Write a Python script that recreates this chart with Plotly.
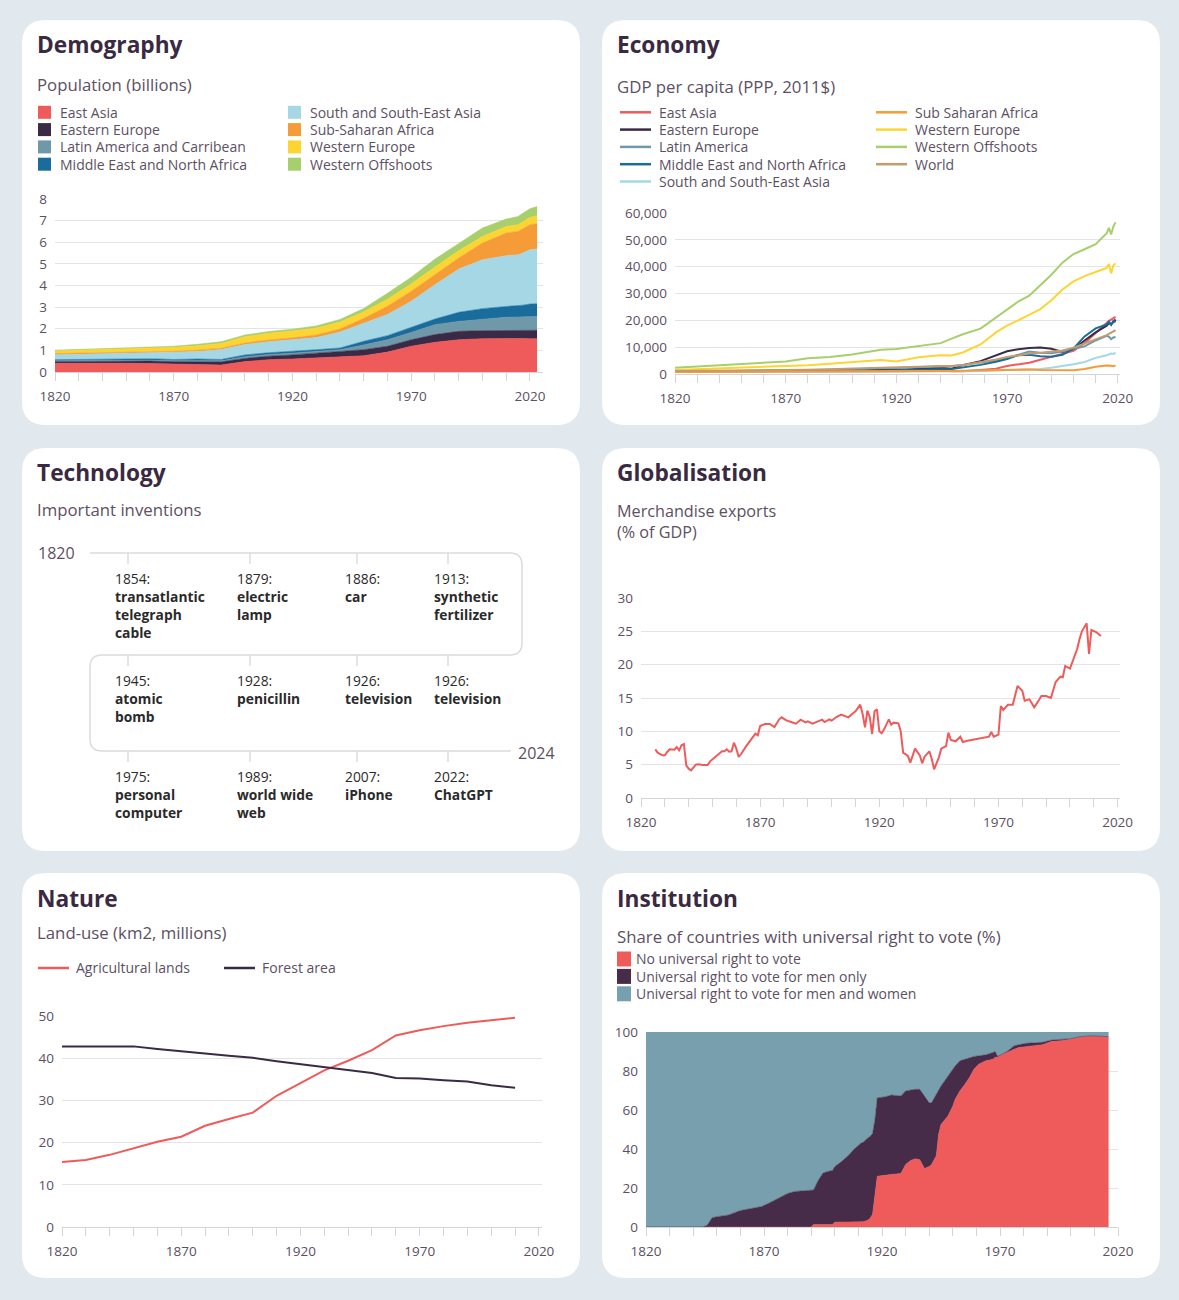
import plotly.graph_objects as go

W, H = 1179, 1300
def px(x): return x / W
def py(y): return 1 - y / H

BG = "#e2e9ee"
FONT = "Open Sans"
TITLE_C = "#3a2a41"
TEXT_C = "#5c5062"
GRID_C = "#e4e4e8"
AXIS_C = "#d4d4d8"

# ---------------- Demography (population, billions) ----------------
pop_years = [1820, 1830, 1840, 1850, 1860, 1870, 1880, 1890, 1900, 1910, 1920, 1930,
             1940, 1950, 1960, 1970, 1980, 1990, 2000, 2010, 2015, 2017, 2020, 2023]
pop_east_asia = [0.40, 0.41, 0.41, 0.40, 0.39, 0.37, 0.35, 0.32, 0.48, 0.57, 0.60, 0.65,
                 0.69, 0.75, 0.92, 1.19, 1.37, 1.49, 1.54, 1.56, 1.56, 1.55, 1.54, 1.54]
pop_eastern_europe = [0.09, 0.09, 0.10, 0.11, 0.12, 0.11, 0.13, 0.15, 0.15, 0.16, 0.19, 0.22,
                      0.25, 0.28, 0.27, 0.30, 0.36, 0.39, 0.37, 0.37, 0.37, 0.38, 0.39, 0.39]
pop_latin_america = [0.03, 0.03, 0.03, 0.04, 0.04, 0.04, 0.05, 0.05, 0.07, 0.08, 0.08, 0.08,
                     0.09, 0.22, 0.30, 0.34, 0.46, 0.46, 0.54, 0.60, 0.61, 0.61, 0.62, 0.64]
pop_mena = [0.05, 0.05, 0.05, 0.05, 0.06, 0.06, 0.07, 0.06, 0.09, 0.08, 0.08, 0.08,
            0.08, 0.17, 0.19, 0.23, 0.26, 0.42, 0.48, 0.50, 0.52, 0.55, 0.59, 0.59]
pop_south_asia = [0.23, 0.24, 0.25, 0.26, 0.27, 0.32, 0.35, 0.46, 0.48, 0.51, 0.53, 0.56,
                  0.74, 0.82, 0.98, 1.21, 1.59, 2.00, 2.26, 2.35, 2.36, 2.41, 2.51, 2.53]
pop_ssa = [0.05, 0.05, 0.05, 0.05, 0.05, 0.06, 0.06, 0.06, 0.07, 0.08, 0.10, 0.12,
           0.14, 0.24, 0.38, 0.46, 0.46, 0.51, 0.77, 1.05, 1.08, 1.13, 1.16, 1.18]
pop_western_europe = [0.13, 0.14, 0.15, 0.16, 0.17, 0.18, 0.20, 0.22, 0.29, 0.31, 0.32, 0.32,
                      0.32, 0.30, 0.32, 0.34, 0.35, 0.34, 0.31, 0.30, 0.31, 0.31, 0.34, 0.36]
pop_western_offshoots = [0.03, 0.03, 0.03, 0.04, 0.04, 0.05, 0.07, 0.08, 0.08, 0.08, 0.08, 0.10,
                         0.12, 0.16, 0.28, 0.31, 0.37, 0.35, 0.39, 0.34, 0.38, 0.40, 0.40, 0.42]
pop_names = ["East Asia", "Eastern Europe", "Latin America and Carribean",
             "Middle East and North Africa", "South and South-East Asia",
             "Sub-Saharan Africa", "Western Europe", "Western Offshoots"]
pop_colors = ["#ef5a5a", "#3b2a45", "#6f98a9", "#1a6c9c",
              "#a5d7e5", "#f59b37", "#fdd533", "#a7cf6b"]

# ---------------- Economy (GDP per capita) ----------------
econ_years = [1820, 1850, 1870, 1880, 1890, 1900, 1910, 1913, 1920, 1930, 1940, 1945, 1950,
              1958, 1965, 1970, 1975, 1980, 1985, 1990, 1995, 2000, 2005, 2010, 2015,
              2016, 2017, 2018, 2019]
gdp_east_asia = [900, 850, 800, 800, 850, 900, 1000, 1000, 1050, 1150, 1300, 1000, 1000,
                 1500, 2000, 3000, 3500, 4200, 5300, 6400, 7500, 8600, 11500, 15400, 19000,
                 19800, 20300, 20800, 21300]
gdp_eastern_europe = [900, 1000, 1200, 1300, 1400, 1600, 1900, 2000, 1500, 1900, 2300, 2000, 3300,
                      4800, 7000, 8500, 9200, 9700, 9900, 9400, 8200, 9300, 12500, 15500, 18000,
                      19000, 18500, 19500, 20300]
gdp_latin_america = [900, 1000, 1100, 1200, 1400, 1600, 2000, 2200, 2200, 2500, 2700, 3000, 3400,
                     4200, 5000, 5900, 7200, 8400, 7900, 7700, 8400, 9400, 10300, 12500, 14200,
                     13900, 13000, 13600, 13800]
gdp_mena = [900, 950, 1000, 1050, 1100, 1200, 1300, 1350, 1400, 1600, 1800, 1900, 2500,
            3400, 4600, 5600, 7000, 7200, 6600, 6400, 7200, 9500, 14000, 17000, 18500,
            19500, 18300, 19800, 19300]
gdp_south_asia = [800, 800, 800, 850, 850, 900, 950, 1000, 950, 1000, 1000, 1000, 1000,
                  1100, 1250, 1350, 1450, 1600, 1850, 2300, 2900, 3600, 4500, 6000, 7000,
                  7400, 7600, 7500, 8000]
gdp_ssa = [700, 750, 800, 850, 900, 950, 1000, 1000, 1000, 1100, 1150, 1150, 1200,
           1350, 1500, 1600, 1700, 1700, 1500, 1450, 1350, 1400, 1900, 2700, 3200,
           3200, 3100, 2900, 3200]
gdp_western_europe = [1500, 2300, 3000, 3300, 3800, 4400, 5000, 5200, 4700, 6200, 7000, 6900, 8000,
                      11000, 15500, 18000, 20000, 22000, 24200, 27500, 31500, 34500, 36500, 38000, 39500,
                      41000, 37500, 40500, 41200]
gdp_western_offshoots = [2300, 3700, 4700, 5900, 6300, 7300, 8800, 9000, 9300, 10300, 11500, 13200, 14800,
                         16900, 21000, 24200, 27000, 29200, 33000, 37000, 41500, 44700, 46500, 48400, 52500,
                         54500, 52000, 55000, 56500]
gdp_world = [1100, 1200, 1500, 1600, 1800, 2000, 2300, 2400, 2300, 2700, 3000, 2900, 3300,
             4300, 5400, 6300, 7000, 7600, 7900, 8300, 8800, 9800, 11300, 12800, 14500,
             15000, 15400, 15900, 16300]
gdp_names = ["East Asia", "Eastern Europe", "Latin America", "Middle East and North Africa",
             "South and South-East Asia", "Sub Saharan Africa", "Western Europe",
             "Western Offshoots", "World"]
gdp_colors = ["#ef5a5a", "#3b2a45", "#6f98a9", "#1a6c9c", "#a5d7e5",
              "#f59b37", "#fdd533", "#a7cf6b", "#c29b6e"]

# ---------------- Technology ----------------
invention_years = [1854, 1879, 1886, 1913, 1945, 1928, 1926, 1926, 1975, 1989, 2007, 2022]
invention_names = ["transatlantic\ntelegraph\ncable", "electric\nlamp", "car", "synthetic\nfertilizer",
                   "atomic\nbomb", "penicillin", "television", "television",
                   "personal\ncomputer", "world wide\nweb", "iPhone", "ChatGPT"]
timeline_start, timeline_end = "1820", "2024"

# ---------------- Globalisation ----------------
exports_years = [1826, 1827, 1829, 1830, 1831, 1832, 1834, 1835, 1836, 1837,
                 1838, 1839, 1840, 1841, 1843, 1844, 1846, 1848, 1849, 1850,
                 1852, 1854, 1855, 1856, 1857, 1858, 1859, 1860, 1861, 1862,
                 1864, 1866, 1867, 1868, 1869, 1870, 1872, 1874, 1876, 1878,
                 1879, 1881, 1883, 1885, 1887, 1889, 1890, 1892, 1894, 1896,
                 1897, 1899, 1900, 1902, 1904, 1906, 1907, 1909, 1910, 1912,
                 1913, 1914, 1915, 1916, 1917, 1918, 1919, 1920, 1921, 1922,
                 1924, 1925, 1926, 1928, 1929, 1930, 1932, 1933, 1935, 1937,
                 1938, 1939, 1941, 1942, 1943, 1945, 1946, 1948, 1949, 1950,
                 1952, 1954, 1955, 1957, 1960, 1962, 1964, 1966, 1967, 1968,
                 1970, 1971, 1972, 1974, 1976, 1978, 1980, 1981, 1983, 1985,
                 1987, 1988, 1990, 1992, 1994, 1996, 1997, 1998, 2000, 2001,
                 2003, 2004, 2005, 2007, 2008, 2009, 2011, 2013]
exports_share = [7.3, 6.8, 6.4, 6.4, 6.9, 7.3, 7.25, 7.65, 7.15, 7.9,
                 8.1, 4.9, 4.4, 4.15, 5.0, 5.05, 4.95, 4.95, 5.5, 5.8,
                 6.4, 7.0, 7.0, 7.3, 6.95, 7.0, 8.3, 7.4, 6.15, 6.6,
                 7.7, 8.6, 9.2, 9.65, 9.4, 10.8, 11.1, 11.1, 10.65, 11.8,
                 12.1, 11.65, 11.4, 11.15, 11.75, 11.35, 11.5, 11.15, 11.45, 11.75,
                 11.4, 11.8, 11.6, 12.15, 12.5, 12.3, 12.1, 12.7, 13.0, 14.0,
                 12.6, 10.6, 13.1, 12.1, 9.6, 13.0, 13.3, 10.0, 9.7, 10.3,
                 11.8, 11.0, 11.3, 11.2, 10.0, 6.8, 6.3, 5.3, 7.4, 6.4,
                 5.2, 6.2, 7.0, 5.9, 4.3, 6.1, 7.4, 7.8, 9.8, 8.7,
                 8.5, 9.2, 8.4, 8.6, 8.8, 8.9, 9.1, 9.2, 9.9, 9.2,
                 9.5, 13.8, 13.2, 14.0, 14.0, 16.8, 16.1, 14.6, 14.8, 13.6,
                 14.7, 15.3, 15.3, 15.0, 17.4, 18.2, 18.1, 19.8, 19.4, 20.4,
                 22.3, 23.8, 25.0, 26.2, 21.6, 25.2, 24.9, 24.3]

# ---------------- Nature (land use) ----------------
land_years = [1820, 1830, 1840, 1850, 1860, 1870, 1880, 1890, 1900, 1910,
              1920, 1930, 1940, 1950, 1960, 1970, 1980, 1990, 2000, 2010]
agricultural_lands = [15.4, 15.9, 17.1, 18.6, 20.2, 21.4, 24.0, 25.6, 27.1, 31.1,
                      34.2, 37.1, 39.4, 41.9, 45.4, 46.6, 47.6, 48.4, 49.0, 49.6]
forest_area = [42.8, 42.8, 42.8, 42.8, 42.2, 41.6, 41.1, 40.6, 40.1, 39.3,
               38.6, 37.9, 37.2, 36.5, 35.3, 35.2, 34.8, 34.5, 33.6, 33.0]

# ---------------- Institution (right to vote) ----------------
vote_years = [1820, 1844, 1846, 1848, 1850, 1852, 1855, 1860, 1863, 1866,
              1869, 1872, 1875, 1878, 1880, 1883, 1887, 1890, 1891, 1893,
              1895, 1897, 1899, 1900, 1903, 1906, 1908, 1911, 1912, 1914,
              1915, 1916, 1917, 1918, 1921, 1924, 1928, 1930, 1932, 1934,
              1936, 1938, 1940, 1941, 1943, 1944, 1945, 1948, 1950, 1951,
              1953, 1955, 1957, 1959, 1961, 1964, 1967, 1968, 1969, 1971,
              1973, 1976, 1978, 1981, 1985, 1988, 1992, 1996, 2000, 2004,
              2009, 2016]
vote_no_universal = [0, 0, 0, 0, 0, 0, 0, 0, 0, 0,
                     0, 0, 0, 0, 0, 0, 0, 0, 1.3, 1.3,
                     1.3, 1.3, 1.3, 2.5, 2.5, 2.5, 2.6, 2.7, 2.7, 3.5,
                     4.5, 6.5, 15.0, 26.0, 26.5, 27.0, 27.5, 32.0, 34.0, 35.0,
                     34.5, 30.0, 31.0, 32.0, 36.6, 47.6, 52.6, 57.0, 62.0, 65.5,
                     69.8, 73.0, 76.6, 81.0, 83.5, 85.2, 86.0, 87.0, 87.0, 88.7,
                     89.5, 91.2, 92.0, 92.5, 93.0, 93.5, 95.2, 95.5, 96.4, 97.6,
                     98.0, 97.6]
vote_upper_men_only = [0, 0, 1.0, 4.8, 5.3, 5.8, 6.2, 8.5, 9.2, 10.0,
                       10.5, 12.2, 14.0, 15.8, 17.2, 18.2, 18.7, 19.0, 19.0, 24.0,
                       27.7, 28.5, 29.0, 31.0, 33.7, 37.0, 39.7, 43.0, 43.5, 45.7,
                       46.5, 48.0, 55.0, 66.3, 66.7, 67.7, 67.2, 69.8, 70.2, 70.6,
                       70.6, 67.2, 63.7, 63.7, 68.0, 70.0, 72.3, 77.5, 81.0, 82.6,
                       85.2, 86.0, 87.0, 87.5, 87.8, 88.3, 89.5, 90.0, 87.5, 88.9,
                       90.0, 93.0, 93.4, 94.2, 94.5, 94.7, 95.9, 96.3, 96.6, 97.6,
                       98.1, 97.6]
vote_men_only = [round(t - n, 2) for t, n in zip(vote_upper_men_only, vote_no_universal)]
vote_men_women = [round(100 - t, 2) for t in vote_upper_men_only]
vote_names = ["No universal right to vote", "Universal right to vote for men only",
              "Universal right to vote for men and women"]
vote_colors = ["#ef5a5a", "#472c4a", "#789fae"]

# =====================================================================
fig = go.Figure()

for name, vals, col in zip(pop_names,
                           [pop_east_asia, pop_eastern_europe, pop_latin_america, pop_mena,
                            pop_south_asia, pop_ssa, pop_western_europe, pop_western_offshoots],
                           pop_colors):
    fig.add_trace(go.Scatter(x=pop_years, y=vals, name=name, stackgroup="pop", mode="lines",
                             line=dict(width=0.6, color=col), fillcolor=col,
                             xaxis="x", yaxis="y", showlegend=False, hoverinfo="skip"))

gdp_series = [gdp_east_asia, gdp_eastern_europe, gdp_latin_america, gdp_mena, gdp_south_asia,
              gdp_ssa, gdp_western_europe, gdp_western_offshoots, gdp_world]
for name, vals, col in zip(gdp_names, gdp_series, gdp_colors):
    fig.add_trace(go.Scatter(x=econ_years, y=vals, name=name, mode="lines",
                             line=dict(width=2, color=col),
                             xaxis="x2", yaxis="y2", showlegend=False, hoverinfo="skip"))

# technology: tick marks on the serpentine timeline
TECH_COL_X = [128, 250, 357, 448]
TECH_ROW_Y = [553, 655, 751]
tx, ty = [], []
for ry in TECH_ROW_Y:
    for cx in TECH_COL_X:
        tx += [cx, cx, None]
        ty += [ry, ry + 11, None]
fig.add_trace(go.Scatter(x=tx, y=ty, mode="lines", line=dict(color="#dcdcdc", width=1.5),
                         xaxis="x3", yaxis="y3", showlegend=False, hoverinfo="skip"))

fig.add_trace(go.Scatter(x=exports_years, y=exports_share, name="Merchandise exports", mode="lines",
                         line=dict(width=2, color="#ef5a5a"), xaxis="x4", yaxis="y4",
                         showlegend=False, hoverinfo="skip"))

land_names = ["Agricultural lands", "Forest area"]
land_colors = ["#ef5a5a", "#3b2a45"]
for name, vals, col in zip(land_names, [agricultural_lands, forest_area], land_colors):
    fig.add_trace(go.Scatter(x=land_years, y=vals, name=name, mode="lines",
                             line=dict(width=2, color=col), xaxis="x5", yaxis="y5",
                             showlegend=False, hoverinfo="skip"))

for name, vals, col in zip(vote_names, [vote_no_universal, vote_men_only, vote_men_women], vote_colors):
    fig.add_trace(go.Scatter(x=vote_years, y=vals, name=name, stackgroup="vote", mode="lines",
                             line=dict(width=0.5, color=col), fillcolor=col,
                             xaxis="x6", yaxis="y6", showlegend=False, hoverinfo="skip"))

# ---------------- axes ----------------
tickfont = dict(family=FONT, size=13.5, color=TEXT_C)

def xax(x0, x1, rng, anchor):
    return dict(domain=[px(x0), px(x1)], range=rng, anchor=anchor, tick0=1820, dtick=50,
                ticks="outside", ticklen=8, tickcolor=AXIS_C, tickwidth=1, automargin=False,
                showline=True, linecolor=AXIS_C, linewidth=1, showgrid=False, zeroline=False,
                tickfont=tickfont, ticklabelstandoff=4, fixedrange=True,
                minor=dict(tick0=1820, dtick=10, ticks="outside", ticklen=8,
                           tickcolor=AXIS_C, tickwidth=1, showgrid=False))

def yax(ytop, ybot, rng, dtick, anchor, fmt=None):
    d = dict(domain=[py(ybot), py(ytop)], range=rng, anchor=anchor, tick0=0, dtick=dtick,
             showgrid=True, gridcolor=GRID_C, gridwidth=1, zeroline=False, showline=False,
             ticks="", tickfont=tickfont, ticklabelstandoff=7, fixedrange=True, automargin=False)
    if fmt:
        d["tickformat"] = fmt
    return d

layout_axes = dict(
    xaxis=xax(55, 543, [1820, 2025.5], "y"),
    yaxis=yax(199, 372, [0, 8], 1, "x"),
    xaxis2=xax(675, 1120, [1820, 2021], "y2"),
    yaxis2=yax(213, 374, [0, 60000], 10000, "x2", fmt=",d"),
    xaxis3=dict(domain=[px(22), px(580)], range=[22, 580], anchor="y3", visible=False,
                fixedrange=True, automargin=False),
    yaxis3=dict(domain=[py(851), py(448)], range=[851, 448], anchor="x3", visible=False,
                fixedrange=True, automargin=False),
    xaxis4=xax(641, 1120, [1820, 2021], "y4"),
    yaxis4=yax(598, 798, [0, 30], 5, "x4"),
    xaxis5=xax(62, 542, [1820, 2021.3], "y5"),
    yaxis5=yax(1016, 1227, [0, 50], 10, "x5"),
    xaxis6=xax(646, 1118, [1820, 2020], "y6"),
    yaxis6=yax(1032, 1227, [0, 100], 20, "x6"),
)

# ---------------- cards ----------------
def rrect(x0, y0, x1, y1, r):
    rx, ry = r / W, r / H
    X0, X1, Y0, Y1 = px(x0), px(x1), py(y0), py(y1)
    return (f"M{X0+rx},{Y0} L{X1-rx},{Y0} Q{X1},{Y0} {X1},{Y0-ry} "
            f"L{X1},{Y1+ry} Q{X1},{Y1} {X1-rx},{Y1} L{X0+rx},{Y1} "
            f"Q{X0},{Y1} {X0},{Y1+ry} L{X0},{Y0-ry} Q{X0},{Y0} {X0+rx},{Y0} Z")

shapes = []
CARD_X = [(22, 580), (602, 1160)]
CARD_Y = [(20, 425), (448, 851), (873, 1278)]
for (y0, y1) in CARD_Y:
    for (x0, x1) in CARD_X:
        shapes.append(dict(type="path", path=rrect(x0, y0, x1, y1, 24), xref="paper", yref="paper",
                           fillcolor="white", line=dict(width=0), layer="below"))

# technology serpentine line
shapes.append(dict(type="path", xref="x3", yref="y3", layer="below",
                   path="M 90,553 H 510 Q 522,553 522,565 V 643 Q 522,655 510,655 H 102 "
                        "Q 90,655 90,667 V 739 Q 90,751 102,751 H 511",
                   line=dict(color="#dcdcdc", width=1.5)))

annotations = []
PADX = 2  # annotation inner padding compensation
def text(x, y, s, size, color=TEXT_C, bold=False, xanchor="left", yanchor="middle"):
    annotations.append(dict(x=px(x - PADX), y=py(y), xref="paper", yref="paper",
                            text=(f"<b>{s}</b>" if bold else s),
                            showarrow=False, xanchor=xanchor, yanchor=yanchor, align="left",
                            font=dict(family=FONT, size=size, color=color)))

# titles & subtitles
TITLE_S, SUB_S, LEG_S = 22.7, 16.8, 14
text(37, 44, "Demography", TITLE_S, TITLE_C, True)
text(37, 84, "Population (billions)", SUB_S)
text(617, 44, "Economy", TITLE_S, TITLE_C, True)
text(617, 87, "GDP per capita (PPP, 2011$)", SUB_S)
text(37, 472, "Technology", TITLE_S, TITLE_C, True)
text(37, 509, "Important inventions", SUB_S)
text(617, 472, "Globalisation", TITLE_S, TITLE_C, True)
text(617, 498, "Merchandise exports<br>(% of GDP)", 16.2, yanchor="top")
text(37, 898, "Nature", TITLE_S, TITLE_C, True)
text(37, 932, "Land-use (km2, millions)", SUB_S)
text(617, 898, "Institution", TITLE_S, TITLE_C, True)
text(617, 936, "Share of countries with universal right to vote (%)", SUB_S)

# demography legend (two columns, squares)
for i, (name, col) in enumerate(zip(pop_names, pop_colors)):
    c, r = divmod(i, 4)
    sx = [38, 288][c]
    yc = 112.3 + 17.3 * r
    shapes.append(dict(type="rect", xref="paper", yref="paper", x0=px(sx), x1=px(sx + 13),
                       y0=py(yc + 6.5), y1=py(yc - 6.5), fillcolor=col, line=dict(width=0)))
    text(sx + 22, yc, name, LEG_S)

# economy legend (two columns, lines)
for i, (name, col) in enumerate(zip(gdp_names, gdp_colors)):
    c, r = (0, i) if i < 5 else (1, i - 5)
    sx = [620, 876][c]
    yc = 112.3 + 17.3 * r
    shapes.append(dict(type="line", xref="paper", yref="paper", x0=px(sx), x1=px(sx + 31),
                       y0=py(yc), y1=py(yc), line=dict(color=col, width=2.5)))
    text(sx + 39, yc, name, LEG_S)

# nature legend (one row, lines)
for name, col, sx in zip(land_names, land_colors, [38, 224]):
    shapes.append(dict(type="line", xref="paper", yref="paper", x0=px(sx), x1=px(sx + 31),
                       y0=py(968), y1=py(968), line=dict(color=col, width=2.5)))
    text(sx + 38, 968, name, LEG_S)

# institution legend (stacked squares)
for i, (name, col) in enumerate(zip(vote_names, vote_colors)):
    yc = 959 + 17.4 * i
    shapes.append(dict(type="rect", xref="paper", yref="paper", x0=px(617), x1=px(631),
                       y0=py(yc + 7.5), y1=py(yc - 7.5), fillcolor=col, line=dict(width=0)))
    text(636, yc, name, LEG_S)

# technology timeline texts
TECH_TEXT_X = [113, 235, 343, 432]
for i, (yr, nm) in enumerate(zip(invention_years, invention_names)):
    r, c = divmod(i, 4)
    label = f"{yr}:<br><b>{nm.replace(chr(10), '<br>')}</b>"
    annotations.append(dict(x=TECH_TEXT_X[c], y=TECH_ROW_Y[r] + 14, xref="x3", yref="y3", text=label,
                            showarrow=False, xanchor="left", yanchor="top", align="left",
                            font=dict(family=FONT, size=13.8, color="#2a2a2a")))
annotations.append(dict(x=77, y=553, xref="x3", yref="y3", text=timeline_start, showarrow=False,
                        xanchor="right", yanchor="middle", font=dict(family=FONT, size=16, color=TEXT_C)))
annotations.append(dict(x=516, y=753, xref="x3", yref="y3", text=timeline_end, showarrow=False,
                        xanchor="left", yanchor="middle", font=dict(family=FONT, size=16, color=TEXT_C)))

fig.update_layout(
    width=W, height=H, margin=dict(l=0, r=0, t=0, b=0, pad=0, autoexpand=False),
    paper_bgcolor=BG, plot_bgcolor="rgba(0,0,0,0)",
    font=dict(family=FONT, color=TEXT_C),
    showlegend=False, hovermode=False,
    shapes=shapes, annotations=annotations,
    **layout_axes,
)

fig.write_html("out.html", config={"displayModeBar": False, "staticPlot": True},
               post_script="document.body.style.margin='0';document.body.style.overflow='hidden';")
